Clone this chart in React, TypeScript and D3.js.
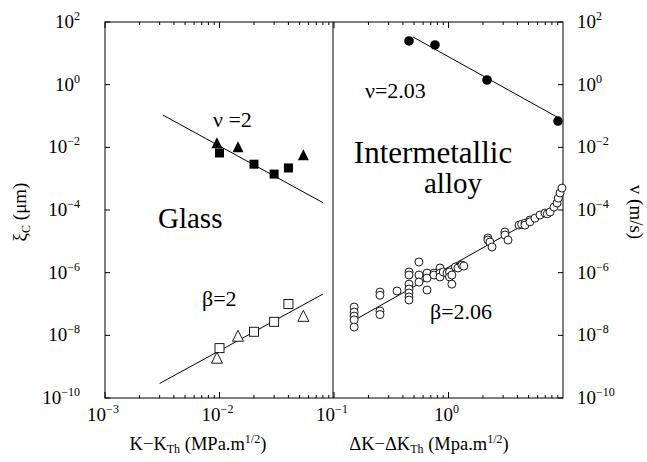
import React from "react";
import * as d3 from "d3";

// Glass, upper set (correlation length, filled marks)
const glassNuTriangles: [number, number][] = [
  [0.0095, 0.0128],
  [0.0145, 0.0095],
  [0.054, 0.0053],
];
const glassNuSquares: [number, number][] = [
  [0.01, 0.0066],
  [0.02, 0.0029],
  [0.03, 0.0014],
  [0.04, 0.0022],
];

// Glass, lower set (velocity, open marks)
const glassBetaSquares: [number, number][] = [
  [0.01, 3.9e-9],
  [0.02, 1.3e-8],
  [0.03, 2.7e-8],
  [0.04, 1.0e-7],
];
const glassBetaTriangles: [number, number][] = [
  [0.0095, 1.75e-9],
  [0.0145, 8.8e-9],
  [0.054, 3.8e-8],
];

// Intermetallic alloy
const alloyNuCircles: [number, number][] = [
  [0.452, 24.8],
  [0.762, 18.5],
  [2.17, 1.41],
  [9.04, 0.069],
];
const alloyBetaCircles: [number, number][] = [
  [0.15, 8.0e-8], [0.15, 5.5e-8], [0.15, 4.1e-8], [0.15, 3.1e-8], [0.15, 1.84e-8],
  [0.252, 2.4e-7], [0.252, 1.9e-7], [0.252, 6.0e-8], [0.252, 4.6e-8],
  [0.355, 2.6e-7],
  [0.452, 1.05e-6], [0.452, 8.4e-7], [0.452, 4.3e-7], [0.452, 3.0e-7],
  [0.452, 2.24e-7], [0.452, 1.67e-7], [0.452, 1.34e-7],
  [0.552, 2.19e-6], [0.552, 8.4e-7], [0.552, 5.0e-7],
  [0.649, 9.7e-7], [0.649, 6.7e-7], [0.649, 2.8e-7],
  [0.746, 9.7e-7], [0.746, 8.4e-7],
  [0.843, 1.41e-6], [0.843, 9.7e-7], [0.843, 7.3e-7],
  [0.9, 1.05e-6], [0.97, 9.7e-7],
  [1.02, 1.05e-6], [1.02, 7.3e-7],
  [1.07, 8.4e-7], [1.07, 4.3e-7],
  [1.15, 1.51e-6], [1.21, 1.41e-6], [1.31, 1.75e-6], [1.36, 1.63e-6],
  [2.21, 1.28e-5], [2.21, 1.1e-5], [2.3, 9.5e-6], [2.4, 6.6e-6],
  [3.11, 1.98e-5], [3.11, 1.59e-5], [3.31, 1.1e-5],
  [4.13, 3.3e-5], [4.35, 3.5e-5], [4.66, 3.8e-5], [4.66, 3.3e-5],
  [5.15, 4.8e-5], [5.15, 4.2e-5], [5.69, 5.5e-5], [6.3, 6.9e-5],
  [6.96, 8.0e-5], [7.3, 7.6e-5], [7.7, 8.6e-5], [8.34, 1.24e-4],
  [8.87, 1.67e-4], [9.1, 2.4e-4], [9.42, 3.5e-4], [9.8, 5.0e-4],
];

// power-law fits: [coefficient, exponent, x from, x to]
const glassNuFit = [1.1e-6, -2, 0.0032, 0.08];
const glassBetaFit = [3.23e-5, 2, 0.003, 0.08];
const alloyNuFit = [7.8, -2.03, 0.49, 9.04];
const alloyBetaFit = [1.5e-6, 2.06, 0.159, 9.0];

const yTickExps = [2, 0, -2, -4, -6, -8, -10];
const xTickExps = [-3, -2, -1, 0];

const W = 647;
const H = 462;
const left = 105;
const right = 563;
const top = 22;
const bottom = 398;
const divider = 333;

const x = d3.scaleLog().domain([1e-3, 10]).range([left, right]);
const y = d3.scaleLog().domain([1e-10, 1e2]).range([bottom, top]);

const fitPath = (f: number[]) => {
  const [c, e, a, b] = f;
  return d3.line<number>()
    .x((d) => x(d))
    .y((d) => y(c * Math.pow(d, e)))([a, b]) as string;
};

const SERIF = "Liberation Serif";

const Pow: React.FC<{ x: number; y: number; e: number; anchor: string }> = ({ x, y, e, anchor }) => (
  <text x={x} y={y} textAnchor={anchor} fontSize={19} fontFamily={SERIF}>
    <tspan>10</tspan>
    <tspan dy={-8} fontSize={12}>{e < 0 ? "\u2212" + Math.abs(e) : e}</tspan>
  </text>
);

const triangle = (cx: number, cy: number, s: number) =>
  `M${cx},${cy - s * 0.62} L${cx + s / 2},${cy + s * 0.38} L${cx - s / 2},${cy + s * 0.38} Z`;

export default function App() {
  const minor: number[] = [];
  for (let p = -3; p < 1; p++) for (let m = 2; m <= 9; m++) minor.push(m * Math.pow(10, p));

  return (
    <svg width={W} height={H} fontFamily={SERIF} style={{ position: "absolute", left: 0, top: 0, background: "#fff" }}>
      <rect x={left} y={top} width={right - left} height={bottom - top} fill="none" stroke="#000" strokeWidth={1} />
      <line x1={divider} x2={divider} y1={top} y2={bottom} stroke="#000" strokeWidth={1} />

      {/* x ticks */}
      {xTickExps.map((e) => (
        <g key={"xt" + e}>
          <line x1={x(Math.pow(10, e))} x2={x(Math.pow(10, e))} y1={bottom} y2={bottom - 6} stroke="#000" />
          <line x1={x(Math.pow(10, e))} x2={x(Math.pow(10, e))} y1={top} y2={top + 6} stroke="#000" />
          <Pow x={x(Math.pow(10, e)) - 2} y={421} e={e} anchor="middle" />
        </g>
      ))}
      {minor.map((v, i) => (
        <g key={"m" + i}>
          <line x1={x(v)} x2={x(v)} y1={bottom} y2={bottom - 3} stroke="#000" />
          <line x1={x(v)} x2={x(v)} y1={top} y2={top + 3} stroke="#000" />
        </g>
      ))}

      {/* y ticks */}
      {yTickExps.map((e) => (
        <g key={"yt" + e}>
          <line x1={left} x2={left + 5} y1={y(Math.pow(10, e))} y2={y(Math.pow(10, e))} stroke="#000" />
          <line x1={right} x2={right - 5} y1={y(Math.pow(10, e))} y2={y(Math.pow(10, e))} stroke="#000" />
          <Pow x={80} y={y(Math.pow(10, e)) + 6} e={e} anchor="end" />
          <Pow x={577} y={y(Math.pow(10, e)) + 6} e={e} anchor="start" />
        </g>
      ))}

      {/* fits */}
      {[glassNuFit, glassBetaFit, alloyNuFit, alloyBetaFit].map((f, i) => (
        <path key={"f" + i} d={fitPath(f)} fill="none" stroke="#000" strokeWidth={1} />
      ))}

      {/* glass marks */}
      {glassNuTriangles.map((d, i) => (
        <path key={"gnt" + i} d={triangle(x(d[0]), y(d[1]), 11)} fill="#000" />
      ))}
      {glassNuSquares.map((d, i) => (
        <rect key={"gns" + i} x={x(d[0]) - 4.5} y={y(d[1]) - 4.5} width={9} height={9} fill="#000" />
      ))}
      {glassBetaSquares.map((d, i) => (
        <rect key={"gbs" + i} x={x(d[0]) - 4.5} y={y(d[1]) - 4.5} width={9} height={9} fill="#fff" stroke="#000" strokeWidth={0.9} />
      ))}
      {glassBetaTriangles.map((d, i) => (
        <path key={"gbt" + i} d={triangle(x(d[0]), y(d[1]), 11)} fill="#fff" stroke="#000" strokeWidth={0.9} />
      ))}

      {/* alloy marks */}
      {alloyBetaCircles.map((d, i) => (
        <circle key={"abc" + i} cx={x(d[0])} cy={y(d[1])} r={4} fill="#fff" stroke="#000" strokeWidth={0.9} />
      ))}
      {alloyNuCircles.map((d, i) => (
        <circle key={"anc" + i} cx={x(d[0])} cy={y(d[1])} r={4.8} fill="#000" />
      ))}

      {/* panel annotations */}
      <g fill="#000" fontFamily={SERIF}>
        <text x={213} y={127} fontSize={22}>{"\u03bd =2"}</text>
        <text x={158} y={228} fontSize={29}>Glass</text>
        <text x={202} y={306} fontSize={22}>{"\u03b2=2"}</text>
        <text x={365} y={98} fontSize={22}>{"\u03bd=2.03"}</text>
        <text x={433} y={163} fontSize={31} textAnchor="middle">Intermetallic</text>
        <text x={453} y={193} fontSize={29} textAnchor="middle">alloy</text>
        <text x={430} y={319} fontSize={22}>{"\u03b2=2.06"}</text>
      </g>

      {/* axis titles */}
      <g fontSize={18.5} fill="#000" fontFamily={SERIF}>
        <text x={198} y={450} textAnchor="middle">
          <tspan>{"K\u2212K"}</tspan>
          <tspan fontSize={12} dy={3}>Th</tspan>
          <tspan dy={-3}>{" (MPa.m"}</tspan>
          <tspan fontSize={12} dy={-7}>1/2</tspan>
          <tspan dy={7}>)</tspan>
        </text>
        <text x={429} y={450} textAnchor="middle">
          <tspan>{"\u0394K\u2212\u0394K"}</tspan>
          <tspan fontSize={12} dy={3}>Th</tspan>
          <tspan dy={-3}>{" (Mpa.m"}</tspan>
          <tspan fontSize={12} dy={-7}>1/2</tspan>
          <tspan dy={7}>)</tspan>
        </text>
        <text transform="translate(26,212) rotate(-90)" textAnchor="middle" fontSize={19}>
          <tspan>{"\u03be"}</tspan>
          <tspan fontSize={12} dy={4}>C</tspan>
          <tspan dy={-4}>{" (\u03bcm)"}</tspan>
        </text>
        <text transform="translate(630,212) rotate(90)" textAnchor="middle" fontSize={19}>
          v (m/s)
        </text>
      </g>
    </svg>
  );
}
